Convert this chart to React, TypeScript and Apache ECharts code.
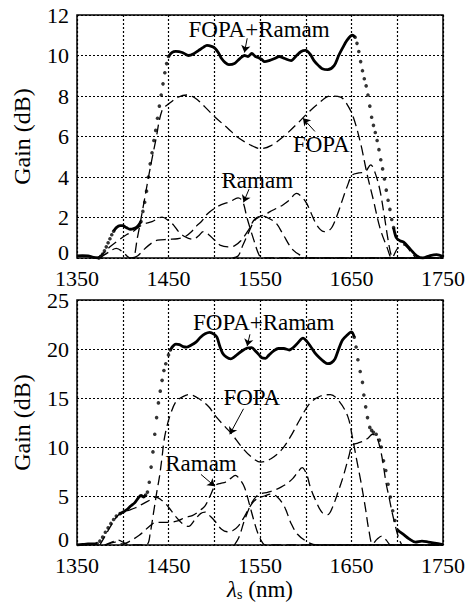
import React, { useEffect, useRef } from "react";
import * as echarts from "echarts";

const FONT = "Liberation Serif";

// ---------- x axis ----------
const xMin = 1350;
const xMax = 1750;
const xStep = 50;

// ---------- TOP PANEL (pump power lower) ----------
const topYMax = 12;
const topYStep = 2;

const topSum: number[][] = [
  [1350, 0.1], [1356, 0.12], [1362, 0.1], [1368, 0.03], [1374, 0], [1376, 0.08], [1378, 0.2],
  [1380, 0.35], [1382, 0.55], [1384, 0.75], [1386, 0.95], [1388, 1.15], [1390, 1.32], [1393, 1.5],
  [1397, 1.6], [1400, 1.6], [1404, 1.5], [1408, 1.42], [1412, 1.45], [1416, 1.55], [1420, 1.8],
  [1422, 2.3], [1424, 2.75], [1426, 3.3], [1428, 4.0], [1430, 4.65], [1432, 5.2], [1434, 5.8],
  [1436, 6.3], [1438, 6.9], [1440, 7.5], [1442, 8.05], [1444, 8.6], [1446, 9.15], [1448, 9.6],
  [1450, 9.95], [1454, 10.15], [1458, 10.2], [1465, 10.15], [1472, 10.0], [1478, 10.1],
  [1483, 10.25], [1488, 10.4], [1492, 10.5], [1497, 10.45], [1501, 10.35], [1505, 10.1],
  [1508, 9.85], [1512, 9.65], [1516, 9.55], [1522, 9.6], [1528, 9.85], [1533, 10.0], [1537, 9.95],
  [1541, 10.1], [1545, 9.95], [1548, 9.9], [1552, 9.8], [1555, 9.7], [1560, 9.75], [1566, 9.85],
  [1571, 9.95], [1577, 9.85], [1584, 9.75], [1590, 10.0], [1595, 10.2], [1600, 10.25],
  [1605, 10.05], [1609, 9.75], [1614, 9.5], [1618, 9.35], [1624, 9.3], [1631, 9.5], [1636, 10.0],
  [1640, 10.35], [1645, 10.75], [1651, 11.0], [1654, 10.9], [1656, 10.6], [1658, 10.2],
  [1660, 9.7], [1662, 9.25], [1664, 8.85], [1666, 8.5], [1668, 8.05], [1670, 7.5], [1672, 6.95],
  [1674, 6.55], [1676, 6.2], [1678, 5.8], [1680, 5.35], [1682, 4.85], [1684, 4.4], [1686, 3.9],
  [1688, 3.35], [1690, 2.85], [1692, 2.4], [1694, 1.9], [1696, 1.5], [1699, 1.0], [1703, 0.85],
  [1707, 0.78], [1714, 0.45], [1721, 0.12], [1728, 0], [1736, 0.12], [1743, 0.17], [1750, 0.07],
];
const topSumDotRanges: number[][] = [[1374, 1390], [1420, 1450], [1654, 1696]];

const topFopa: number[][] = [
  [1375, 0], [1385, 0.3], [1393, 0.48], [1400, 0.3], [1407, 0.02], [1411, 0], [1416, 1.0],
  [1421, 2.2], [1429, 4.2], [1436, 5.8], [1443, 7.3], [1450, 7.6], [1461, 7.95], [1470, 8.05],
  [1479, 7.9], [1490, 7.45], [1501, 6.95], [1515, 6.4], [1526, 5.95], [1541, 5.55], [1551, 5.4],
  [1562, 5.55], [1577, 6.05], [1591, 6.65], [1602, 7.15], [1613, 7.6], [1627, 8.0], [1638, 7.95],
  [1645, 7.6], [1652, 6.95], [1660, 5.65], [1667, 4.15], [1674, 2.85], [1681, 1.5], [1689, 0.5],
  [1694, 0], [1700, 0.45], [1707, 0.65], [1715, 0.3], [1722, 0], [1750, 0],
];
const topRaman1: number[][] = [
  [1372, 0], [1378, 0.2], [1386, 0.55], [1396, 0.9], [1404, 1.15], [1411, 1.3], [1421, 1.63],
  [1432, 1.8], [1443, 2.02], [1450, 1.85], [1456, 1.6], [1461, 1.3], [1468, 1.05], [1477, 0.92],
  [1483, 1.1], [1488, 1.3], [1494, 1.15], [1500, 0.9], [1507, 0.62], [1515, 0.55], [1522, 0.6],
  [1529, 0.85], [1537, 1.35], [1544, 1.9], [1552, 2.08], [1560, 1.95], [1568, 1.7], [1576, 1.1],
  [1586, 0.4], [1597, 0.07], [1605, 0], [1750, 0],
];
const topRaman2: number[][] = [
  [1410, 0], [1416, 0.1], [1424, 0.45], [1432, 0.75], [1438, 0.88], [1450, 0.92], [1460, 0.95],
  [1468, 1.05], [1475, 1.3], [1481, 1.6], [1486, 1.8], [1493, 2.2], [1504, 2.55], [1518, 2.8],
  [1526, 2.97], [1531, 2.8], [1536, 1.95], [1543, 0.92], [1549, 0.15], [1553, 0], [1750, 0],
];
const topRaman3: number[][] = [
  [1520, 0], [1526, 0.1], [1531, 0.6], [1537, 1.2], [1544, 1.85], [1550, 2.05], [1556, 2.15],
  [1561, 2.29], [1568, 2.45], [1575, 2.62], [1582, 2.85], [1590, 3.19], [1596, 3.0], [1601, 2.7],
  [1606, 2.2], [1611, 1.71], [1616, 1.4], [1620, 1.3], [1625, 1.35], [1629, 1.54], [1635, 2.2],
  [1640, 2.86], [1645, 3.5], [1651, 4.1], [1658, 4.2], [1665, 4.26], [1671, 4.6], [1676, 4.18],
  [1681, 3.36], [1686, 2.04], [1690, 0.9], [1694, 0.07], [1698, 0], [1750, 0],
];

// ---------- BOTTOM PANEL (pump power higher) ----------
const botYMax = 25;
const botYStep = 5;

const botSum: number[][] = [
  [1350, 0], [1356, 0.05], [1362, 0.1], [1368, 0.12], [1372, 0.15], [1375, 0.4], [1378, 0.8],
  [1381, 1.3], [1384, 1.75], [1387, 2.2], [1390, 2.6], [1393, 2.95], [1397, 3.2], [1401, 3.4],
  [1405, 3.65], [1409, 4.0], [1413, 4.3], [1417, 4.8], [1420, 5.05], [1423, 4.9], [1425, 5.1],
  [1427, 5.4], [1429, 6.4], [1431, 7.95], [1433, 9.5], [1435, 11.3], [1437, 13.0], [1439, 14.5],
  [1441, 15.7], [1443, 16.8], [1445, 17.8], [1447, 18.5], [1450, 19.4], [1452, 19.9],
  [1455, 20.3], [1458, 20.5], [1462, 20.45], [1466, 20.25], [1470, 20.2], [1475, 20.4],
  [1480, 20.7], [1485, 21.2], [1490, 21.55], [1495, 21.7], [1500, 21.5], [1503, 21.2],
  [1506, 20.3], [1509, 19.6], [1513, 19.2], [1518, 19.0], [1522, 19.2], [1526, 19.5],
  [1531, 19.85], [1536, 20.1], [1541, 20.15], [1545, 19.8], [1549, 19.4], [1552, 19.1],
  [1556, 19.05], [1560, 19.4], [1565, 19.8], [1570, 20.05], [1576, 20.05], [1582, 19.9],
  [1587, 20.2], [1592, 20.7], [1597, 21.1], [1601, 20.8], [1605, 20.3], [1610, 19.6],
  [1615, 19.1], [1620, 18.7], [1624, 18.5], [1628, 18.6], [1632, 19.0], [1636, 20.0],
  [1640, 20.9], [1645, 21.4], [1650, 21.75], [1653, 21.2], [1655, 20.2], [1657, 18.9],
  [1659.5, 17.7], [1662, 16.6], [1663.5, 15.3], [1665.5, 14.1], [1667.5, 13.0], [1670, 12.0],
  [1672, 11.7], [1674, 11.5], [1677, 11.3], [1680.5, 10.7], [1682.5, 10.0], [1685, 8.6],
  [1687.5, 7.6], [1690, 6.2], [1692.5, 4.9], [1695, 3.5], [1697.5, 2.5], [1700.5, 1.5],
  [1706, 1.14], [1713, 0.63], [1720, 0.3], [1727, 0.4], [1734, 0.3], [1741, 0.2], [1750, 0.05],
];
const botSumDotRanges: number[][] = [[1372, 1397], [1425, 1452], [1653, 1700.5]];

const botFopa: number[][] = [
  [1380, 0], [1388, 0.3], [1395, 0.5], [1402, 0.2], [1408, 0], [1420, 0], [1427, 0.1],
  [1430, 1.2], [1434, 3.5], [1437, 5.3], [1440, 6.9], [1443, 9.0], [1445, 10.6], [1448, 12.0],
  [1452, 13.3], [1458, 14.6], [1465, 15.1], [1472, 15.35], [1483, 14.95], [1494, 14.1],
  [1501, 13.2], [1512, 12.05], [1519, 11.35], [1530, 10.0], [1541, 8.95], [1551, 8.45],
  [1562, 8.8], [1573, 9.65], [1583, 11.0], [1593, 12.7], [1604, 14.4], [1615, 15.15],
  [1627, 15.35], [1637, 14.6], [1646, 13.1], [1651, 11.0], [1655, 9.0], [1660, 6.6],
  [1665, 3.9], [1669, 1.5], [1673, 0.1], [1678, 0.6], [1683, 0.9], [1688, 0.5], [1693, 0],
  [1750, 0],
];
const botRaman1: number[][] = [
  [1375, 0], [1380, 0.8], [1386, 1.8], [1392, 2.7], [1397, 3.2], [1405, 3.5], [1414, 3.8],
  [1422, 4.2], [1430, 4.6], [1436, 4.9], [1442, 4.6], [1447, 4.2], [1453, 3.5], [1458, 2.9],
  [1465, 2.2], [1472, 1.9], [1479, 2.6], [1485, 3.2], [1490, 3.35], [1496, 2.9], [1502, 2.3],
  [1508, 1.6], [1514, 1.35], [1520, 1.45], [1526, 1.9], [1533, 2.9], [1541, 4.2], [1548, 4.8],
  [1555, 5.0], [1562, 5.2], [1569, 4.9], [1577, 3.85], [1584, 2.2], [1591, 1.1], [1602, 0.3],
  [1612, 0], [1750, 0],
];
const botRaman2: number[][] = [
  [1382, 0], [1392, 0.3], [1400, 0.1], [1408, 0.4], [1418, 1.0], [1428, 1.8], [1436, 2.3],
  [1450, 2.3], [1460, 2.45], [1468, 2.8], [1476, 3.0], [1484, 3.5], [1490, 4.0], [1496, 5.1],
  [1501, 6.05], [1507, 6.3], [1512, 6.4], [1518, 6.8], [1523, 7.1], [1528, 6.7], [1533, 5.9],
  [1538, 4.3], [1543, 2.6], [1548, 1.1], [1553, 0.2], [1556, 0], [1750, 0],
];
const botRaman3: number[][] = [
  [1522, 0], [1527, 0.8], [1533, 2.5], [1541, 4.3], [1548, 5.1], [1559, 5.4], [1566, 5.6],
  [1573, 5.9], [1580, 6.3], [1586, 6.8], [1591, 7.4], [1596, 7.9], [1601, 7.2], [1605, 5.9],
  [1611, 4.5], [1618, 3.3], [1624, 3.1], [1629, 3.8], [1636, 5.6], [1641, 7.0], [1647, 9.0],
  [1651, 10.2], [1657, 10.4], [1663, 10.6], [1668, 10.9], [1673, 11.3], [1677, 11.1],
  [1681, 10.0], [1684, 8.6], [1688, 6.2], [1691, 4.9], [1694, 3.5], [1697, 2.3], [1700, 1.2],
  [1703, 0.4], [1706, 0], [1750, 0],
];

// ---------- annotations (text centre, arrow start, arrow end) ----------
const topLabels = [
  { text: "FOPA+Ramam", at: [1549, 11.3], from: [1536, 10.85], to: [1533, 10.15] },
  { text: "FOPA", at: [1617, 5.6], from: [1610, 6.25], to: [1597, 6.9] },
  { text: "Ramam", at: [1547, 3.85], from: [1538, 3.4], to: [1532, 2.75] },
];
const botLabels = [
  { text: "FOPA+Ramam", at: [1554, 22.75], from: [1539, 21.5], to: [1536, 20.3] },
  { text: "FOPA", at: [1541, 15.1], from: [1532, 13.9], to: [1517, 11.3] },
  { text: "Ramam", at: [1485.5, 8.35], from: [1485.5, 7.2], to: [1500.5, 6.0] },
];

function splitCurve(points: number[][], ranges: number[][]) {
  const inside = (x: number) => ranges.some(([a, b]) => x > a && x < b);
  const within = (x: number) => ranges.some(([a, b]) => x >= a && x <= b);
  const solid = points.map((p) => (inside(p[0]) ? [p[0], "-"] : p));
  const dots = points.filter((p) => within(p[0]));
  return { solid, dots };
}

function panelSeries(
  idx: number,
  sum: number[][],
  ranges: number[][],
  fopa: number[][],
  r1: number[][],
  r2: number[][],
  r3: number[][],
  labels: { text: string; at: number[]; from: number[]; to: number[] }[]
) {
  const { solid, dots } = splitCurve(sum, ranges);
  const dashed = (name: string, data: number[][]) => ({
    name,
    type: "line",
    xAxisIndex: idx,
    yAxisIndex: idx,
    data,
    showSymbol: false,
    smooth: 0.35,
    lineStyle: { color: "#000", width: 1.3, type: [10, 5] },
    z: 3,
  });
  return [
    {
      name: "FOPA+Raman",
      type: "line",
      xAxisIndex: idx,
      yAxisIndex: idx,
      data: solid,
      showSymbol: false,
      smooth: 0.3,
      connectNulls: false,
      lineStyle: { color: "#000", width: 2.8 },
      z: 4,
    },
    {
      name: "FOPA+Raman dots",
      type: "scatter",
      xAxisIndex: idx,
      yAxisIndex: idx,
      data: dots,
      symbol: "circle",
      symbolSize: 3.6,
      itemStyle: { color: "#000" },
      z: 4,
    },
    {
      ...dashed("FOPA", fopa),
      markPoint: {
        symbol: "circle",
        symbolSize: 1,
        itemStyle: { color: "rgba(0,0,0,0)" },
        label: {
          show: true,
          position: "inside",
          color: "#000",
          fontFamily: FONT,
          fontSize: 23,
          formatter: (p: any) => p.name,
        },
        data: labels.map((l) => ({ name: l.text, coord: l.at })),
      },
      markLine: {
        silent: true,
        symbol: ["none", "arrow"],
        symbolSize: 7,
        label: { show: false },
        lineStyle: { color: "#000", width: 1, type: "solid" },
        data: labels.map((l) => [{ coord: l.from }, { coord: l.to }]),
      },
    },
    dashed("Raman 1", r1),
    dashed("Raman 2", r2),
    dashed("Raman 3", r3),
  ];
}

export default function App() {
  const ref = useRef<HTMLDivElement>(null);
  useEffect(() => {
    document.body.style.margin = "0";
    if (!ref.current) return;
    const chart = echarts.init(ref.current, undefined, { renderer: "svg" });
    const splitLine = { show: true, lineStyle: { color: "#000", width: 1.2, type: [2, 2] } };
    const xAxisBase = (gridIndex: number, withName: boolean) => ({
      type: "value",
      gridIndex,
      min: xMin,
      max: xMax,
      interval: xStep,
      axisLine: { show: false },
      axisTick: { show: false },
      splitLine,
      axisLabel: {
        color: "#000",
        fontFamily: FONT,
        fontSize: 22,
        lineHeight: 16,
        margin: 12,
        formatter: (v: number) => ((v - xMin) % 100 === 0 ? String(v) : ""),
      },
      ...(withName
        ? {
            name: "{i|λ}{sub|s}{n| (nm)}",
            nameLocation: "middle",
            nameGap: 33,
            nameTextStyle: {
              fontFamily: FONT,
              rich: {
                i: { fontFamily: FONT, fontStyle: "italic", fontSize: 23, color: "#000" },
                sub: { fontFamily: FONT, fontSize: 14, color: "#000", verticalAlign: "bottom", padding: [8, 0, 0, 0] },
                n: { fontFamily: FONT, fontSize: 23, color: "#000" },
              },
            },
          }
        : {}),
    });
    const yAxisBase = (gridIndex: number, max: number, interval: number) => ({
      type: "value",
      gridIndex,
      min: 0,
      max,
      interval,
      axisLine: { show: false },
      axisTick: { show: false },
      splitLine,
      axisLabel: {
        color: "#000",
        fontFamily: FONT,
        fontSize: 22,
        lineHeight: 16,
        margin: 8,
        formatter: (v: number) => (v === 0 ? "{z|0}" : String(v)),
        rich: {
          z: { fontFamily: FONT, fontSize: 22, lineHeight: 16, color: "#000", padding: [0, 0, 12, 0] },
        },
      },
      name: "Gain (dB)",
      nameLocation: "middle",
      nameRotate: 90,
      nameGap: 43,
      nameTextStyle: { color: "#000", fontFamily: FONT, fontSize: 24 },
    });
    chart.setOption({
      animation: false,
      backgroundColor: "#fff",
      textStyle: { fontFamily: FONT },
      grid: [
        { left: 77, top: 15, width: 371, height: 243, show: true, borderColor: "#000", borderWidth: 1.5, backgroundColor: "transparent" },
        { left: 77, top: 300, width: 371, height: 245, show: true, borderColor: "#000", borderWidth: 1.5, backgroundColor: "transparent" },
      ],
      xAxis: [xAxisBase(0, false), xAxisBase(1, true)],
      yAxis: [yAxisBase(0, topYMax, topYStep), yAxisBase(1, botYMax, botYStep)],
      series: [
        ...panelSeries(0, topSum, topSumDotRanges, topFopa, topRaman1, topRaman2, topRaman3, topLabels),
        ...panelSeries(1, botSum, botSumDotRanges, botFopa, botRaman1, botRaman2, botRaman3, botLabels),
      ],
    });
    return () => chart.dispose();
  }, []);
  return <div ref={ref} style={{ width: 468, height: 605 }} />;
}
